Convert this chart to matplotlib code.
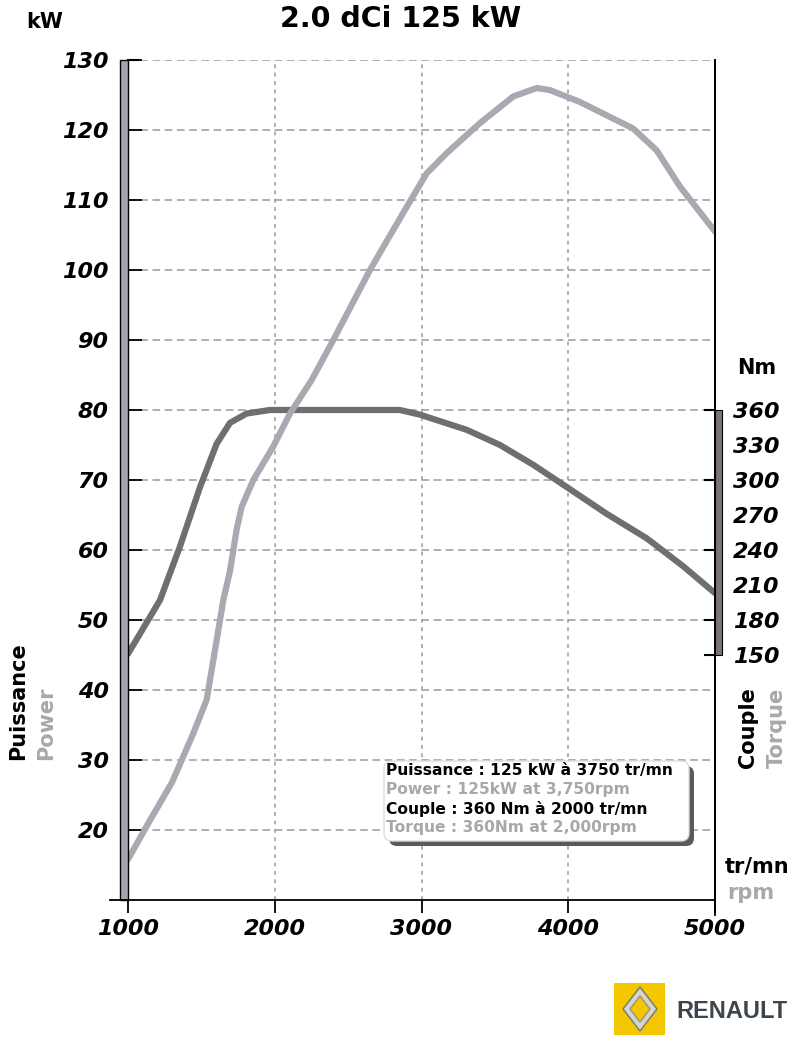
import matplotlib
matplotlib.use("Agg")
import matplotlib.pyplot as plt
from matplotlib.patches import Rectangle, FancyBboxPatch, Polygon

# power curve (kW) and torque curve (Nm)
power_rpm = [1000, 1150, 1300, 1445, 1536, 1604, 1650, 1695, 1740, 1775, 1854, 1990,
             2104, 2252, 2399, 2649, 2740, 2899, 3035, 3172, 3399, 3626, 3785, 3876,
             4080, 4443, 4602, 4762, 5000]
power_kw = [15.8, 21.4, 26.8, 33.8, 38.6, 47.1, 52.9, 57.0, 62.9, 66.2, 70.0, 74.8,
            79.5, 84.3, 90.0, 100.0, 103.3, 109.0, 113.8, 116.7, 121.0, 124.8, 126.0, 125.7,
            124.0, 120.2, 117.1, 111.9, 105.5]

torque_rpm = [1000, 1218, 1354, 1491, 1604, 1695, 1809, 1967, 2853, 2990, 3308, 3535,
              3762, 3989, 4262, 4535, 4784, 5000]
torque_nm = [151, 197, 243, 294, 331, 349, 357, 360, 360, 356, 343, 330,
             313, 294, 271, 250, 226, 203]

rpm_ticks = [1000, 2000, 3000, 4000, 5000]
kw_ticks = [20, 30, 40, 50, 60, 70, 80, 90, 100, 110, 120, 130]
nm_ticks = [150, 180, 210, 240, 270, 300, 330, 360]

legend_lines = [("Puissance : 125 kW à 3750 tr/mn", "black"),
                ("Power : 125kW at 3,750rpm", "#a8a8a8"),
                ("Couple : 360 Nm à 2000 tr/mn", "black"),
                ("Torque : 360Nm at 2,000rpm", "#a8a8a8")]

POWER_C = "#a9a9b2"
TORQUE_C = "#6f6f71"
LIGHT = "#a8a8a8"
GRID_C = "#9a9a9a"
tick_font = dict(family="DejaVu Sans", weight="bold", style="italic", size=16)

fig = plt.figure(figsize=(8, 10.46), dpi=100)
W, H = 800, 1046
x0, x1, y0, y1 = 128, 715, 900, 60
ax = fig.add_axes([x0 / W, 1 - y0 / H, (x1 - x0) / W, (y0 - y1) / H])
ax.set_xlim(1000, 5000)
ax.set_ylim(10, 130)

# torque on a twin axis behind the power axis: 360 Nm sits on 80 kW, 30 Nm per 5 kW
ax2 = ax.twinx()
ax2.set_ylim(-60, 660)
ax.set_zorder(ax2.get_zorder() + 1)
ax.patch.set_visible(False)

# grid lives on the back axis so both curves sit above it
for v in kw_ticks:
    ax2.plot([1000, 5000], [v, v], transform=ax.transData, color=GRID_C, lw=1.1,
             ls=(0, (5, 3)), zorder=1)
for v in [2000, 3000, 4000]:
    ax2.axvline(v, color=GRID_C, lw=1.1, ls=(0, (2.5, 3)), zorder=1)

ax2.plot(torque_rpm, torque_nm, color=TORQUE_C, lw=4.5, solid_capstyle="round",
         solid_joinstyle="round", zorder=3)
ax.plot(power_rpm, power_kw, color=POWER_C, lw=4.5, solid_capstyle="round",
        solid_joinstyle="round", zorder=3)

for s in ["top", "right"]:
    ax.spines[s].set_visible(False)
ax.spines["left"].set_linewidth(1.3)
ax.spines["bottom"].set_linewidth(1.3)

ax.set_xticks(rpm_ticks)
ax.set_xticklabels([str(v) for v in rpm_ticks], fontdict=tick_font)
ax.set_yticks(kw_ticks)
ax.set_yticklabels([str(v) for v in kw_ticks], fontdict=tick_font)
ax.tick_params(axis="x", direction="out", length=9, width=1.3, pad=5)
ax.tick_params(axis="y", direction="in", length=10, width=1.3, pad=14)

for s in ["top", "left", "bottom"]:
    ax2.spines[s].set_visible(False)
ax2.spines["right"].set_linewidth(1.3)
ax2.set_yticks(nm_ticks)
ax2.set_yticklabels([str(v) for v in nm_ticks], fontdict=tick_font)
ax2.tick_params(axis="y", which="major", length=0, pad=13)

# overlay in pixel coords for decorations
ov = fig.add_axes([0, 0, 1, 1], zorder=5)
ov.set_xlim(0, W)
ov.set_ylim(H, 0)
ov.axis("off")
ov.patch.set_visible(False)

# gray bars beside the axes
ov.add_patch(Rectangle((120, 60), 8, 840, facecolor="#a3a3ab", edgecolor="black", lw=1.0))
ov.add_patch(Rectangle((715, 410), 7, 245, facecolor="#7d7474", edgecolor="black", lw=0.8))
ov.plot([110, 128], [900, 900], color="black", lw=1.3)
ov.plot([128, 138], [60, 60], color="black", lw=1.5)
for yy in [410, 480, 550, 620, 655]:
    ov.plot([705, 715], [yy, yy], color="black", lw=1.5)
ov.plot([715, 715], [60, 915], color="black", lw=1.3)

# titles and axis names
ov.text(401, 19, "2.0 dCi 125 kW", ha="center", va="center", fontsize=20.5, weight="bold")
ov.text(45, 22, "kW", ha="center", va="center", fontsize=15, weight="bold")
ov.text(757, 368, "Nm", ha="center", va="center", fontsize=15, weight="bold")
ov.text(757, 866, "tr/mn", ha="center", va="center", fontsize=15, weight="bold")
ov.text(751, 893, "rpm", ha="center", va="center", fontsize=15, weight="bold", color=LIGHT)
ov.text(18, 760, "Puissance", rotation=90, ha="center", va="bottom", fontsize=15, weight="bold")
ov.text(46, 760, "Power", rotation=90, ha="center", va="bottom", fontsize=15, weight="bold", color=LIGHT)
ov.text(748, 768, "Couple", rotation=90, ha="center", va="bottom", fontsize=15, weight="bold")
ov.text(777, 768, "Torque", rotation=90, ha="center", va="bottom", fontsize=15, weight="bold", color=LIGHT)

# info box with shadow
ov.add_patch(FancyBboxPatch((389, 766), 305, 80, boxstyle="round,pad=0,rounding_size=8",
                            facecolor="#5a5a5a", edgecolor="none"))
ov.add_patch(FancyBboxPatch((384, 761), 305, 80, boxstyle="round,pad=0,rounding_size=8",
                            facecolor="white", edgecolor="#dddddd", lw=1))
for i, (txt, col) in enumerate(legend_lines):
    ov.text(386, 770 + i * 19.3, txt, ha="left", va="center", fontsize=11.2,
            weight="bold", color=col)

# logo
ov.add_patch(Rectangle((614, 983), 51, 52, facecolor="#f3c800", edgecolor="none"))
ov.add_patch(Polygon([(640, 987), (657, 1009), (640, 1031), (623, 1009)],
                     closed=True, facecolor="#d4d3cc", edgecolor="#77776d", lw=1))
ov.add_patch(Polygon([(640, 996), (650, 1009), (640, 1022), (630, 1009)],
                     closed=True, facecolor="#f3c800", edgecolor="#8a8a80", lw=0.8))
ov.text(732, 1011, "RENAULT", ha="center", va="center", fontsize=17, weight="bold",
        color="#3c454d", family="Liberation Sans")

fig.savefig("out.png", dpi=100)
